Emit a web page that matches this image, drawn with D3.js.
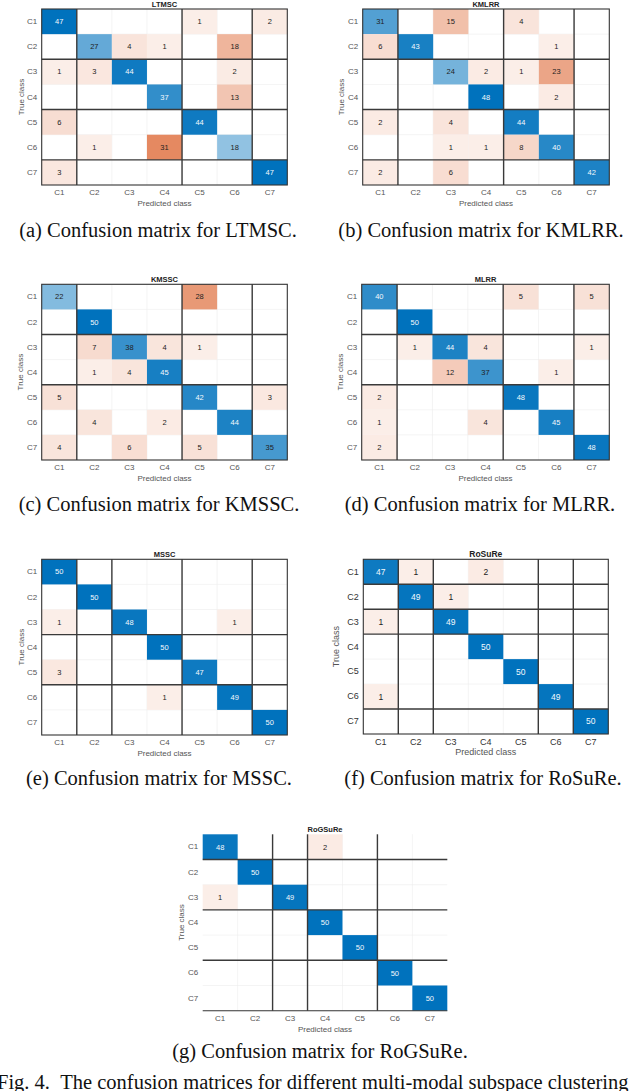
<!DOCTYPE html>
<html>
<head>
<meta charset="utf-8">
<script src="https://cdn.jsdelivr.net/npm/d3@7"></script>
<style>
  html, body { margin: 0; padding: 0; background: #fff; overflow: hidden; }
  svg { display: block; }
</style>
</head>
<body>
<script>
// ---------------- DATA ----------------
const classes = ["C1", "C2", "C3", "C4", "C5", "C6", "C7"];

const ltmsc = [
  [47, 0, 0, 0, 1, 0, 2],
  [0, 27, 4, 1, 0, 18, 0],
  [1, 3, 44, 0, 0, 2, 0],
  [0, 0, 0, 37, 0, 13, 0],
  [6, 0, 0, 0, 44, 0, 0],
  [0, 1, 0, 31, 0, 18, 0],
  [3, 0, 0, 0, 0, 0, 47]
];
const kmlrr = [
  [31, 0, 15, 0, 4, 0, 0],
  [6, 43, 0, 0, 0, 1, 0],
  [0, 0, 24, 2, 1, 23, 0],
  [0, 0, 0, 48, 0, 2, 0],
  [2, 0, 4, 0, 44, 0, 0],
  [0, 0, 1, 1, 8, 40, 0],
  [2, 0, 6, 0, 0, 0, 42]
];
const kmssc = [
  [22, 0, 0, 0, 28, 0, 0],
  [0, 50, 0, 0, 0, 0, 0],
  [0, 7, 38, 4, 1, 0, 0],
  [0, 1, 4, 45, 0, 0, 0],
  [5, 0, 0, 0, 42, 0, 3],
  [0, 4, 0, 2, 0, 44, 0],
  [4, 0, 6, 0, 5, 0, 35]
];
const mlrr = [
  [40, 0, 0, 0, 5, 0, 5],
  [0, 50, 0, 0, 0, 0, 0],
  [0, 1, 44, 4, 0, 0, 1],
  [0, 0, 12, 37, 0, 1, 0],
  [2, 0, 0, 0, 48, 0, 0],
  [1, 0, 0, 4, 0, 45, 0],
  [2, 0, 0, 0, 0, 0, 48]
];
const mssc = [
  [50, 0, 0, 0, 0, 0, 0],
  [0, 50, 0, 0, 0, 0, 0],
  [1, 0, 48, 0, 0, 1, 0],
  [0, 0, 0, 50, 0, 0, 0],
  [3, 0, 0, 0, 47, 0, 0],
  [0, 0, 0, 1, 0, 49, 0],
  [0, 0, 0, 0, 0, 0, 50]
];
const rosure = [
  [47, 1, 0, 2, 0, 0, 0],
  [0, 49, 1, 0, 0, 0, 0],
  [1, 0, 49, 0, 0, 0, 0],
  [0, 0, 0, 50, 0, 0, 0],
  [0, 0, 0, 0, 50, 0, 0],
  [1, 0, 0, 0, 0, 49, 0],
  [0, 0, 0, 0, 0, 0, 50]
];
const rogsure = [
  [48, 0, 0, 2, 0, 0, 0],
  [0, 50, 0, 0, 0, 0, 0],
  [1, 0, 49, 0, 0, 0, 0],
  [0, 0, 0, 50, 0, 0, 0],
  [0, 0, 0, 0, 50, 0, 0],
  [0, 0, 0, 0, 0, 50, 0],
  [0, 0, 0, 0, 0, 0, 50]
];

const titles = ["LTMSC", "KMLRR", "KMSSC", "MLRR", "MSSC", "RoSuRe", "RoGSuRe"];
const captions = [
  "(a) Confusion matrix for LTMSC.",
  "(b) Confusion matrix for KMLRR.",
  "(c) Confusion matrix for KMSSC.",
  "(d) Confusion matrix for MLRR.",
  "(e) Confusion matrix for MSSC.",
  "(f) Confusion matrix for RoSuRe.",
  "(g) Confusion matrix for RoGSuRe."
];
// cluster-block separators: number of classes before each line
const colBreaks = [[1, 4, 6], [1, 4, 6], [1, 4, 6], [1, 4, 6], [1, 2, 4, 6], [1, 2, 5, 6], [2, 3, 5]];
const rowBreaks = [[2, 4, 6], [2, 4, 6], [2, 4], [2, 4], [3, 5], [1, 2, 3, 6], [1, 3, 5]];
const figCaption = "Fig. 4.\u00A0\u00A0The confusion matrices for different multi-modal subspace clustering";
const xLabel = "Predicted class";
const yLabel = "True class";

// ---------------- LAYOUT ----------------
const matrices = [ltmsc, kmlrr, kmssc, mlrr, mssc, rosure, rogsure];
const layout = [
  { x0: 41.7, x1: 287.3, y0: 9, y1: 185, ylab: 21, cap: 158, capY: 230, border: true, big: false },
  { x0: 362.7, x1: 609.3, y0: 9, y1: 185, ylab: 341, cap: 481, capY: 230, border: true, big: false },
  { x0: 41.7, x1: 287.3, y0: 284.3, y1: 460, ylab: 20.5, cap: 159, capY: 504, border: true, big: false },
  { x0: 361.7, x1: 609.3, y0: 284.3, y1: 460, ylab: 340, cap: 480, capY: 504, border: true, big: false },
  { x0: 41.7, x1: 287.3, y0: 559.3, y1: 735, ylab: 21, cap: 159, capY: 778, border: true, big: false },
  { x0: 363.3, x1: 608.3, y0: 559.3, y1: 734, ylab: 335.5, cap: 483, capY: 778, border: true, big: true },
  { x0: 202.7, x1: 447.3, y0: 834.3, y1: 1010.7, ylab: 181, cap: 320, capY: 1051, border: false, big: false }
];

const W = 640, H = 1091;
const svg = d3.select("body").append("svg").attr("width", W).attr("height", H);
const sans = "'Liberation Sans', Arial, Helvetica, sans-serif";
const serif = "'Liberation Serif', 'Times New Roman', Times, serif";

const blue = d3.interpolateRgb("#ffffff", "#0072BD");
const red = d3.interpolateRgb("#ffffff", "#D95319");

matrices.forEach((m, p) => {
  const L = layout[p];
  const g = svg.append("g");
  const x = d3.scaleBand().domain(classes).range([L.x0, L.x1]);
  const y = d3.scaleBand().domain(classes).range([L.y0, L.y1]);
  const vmax = d3.max(m.flat());

  const cells = [];
  m.forEach((row, i) => row.forEach((v, j) => {
    if (v > 0) cells.push({ r: classes[i], c: classes[j], v, diag: i === j });
  }));

  // faint grid
  const gridCol = "#ececec";
  g.append("g").selectAll("line.gv").data(classes.slice(1)).join("line")
    .attr("x1", d => x(d)).attr("x2", d => x(d))
    .attr("y1", L.y0).attr("y2", L.y1)
    .attr("stroke", gridCol).attr("stroke-width", 0.6);
  g.append("g").selectAll("line.gh").data(classes.slice(1)).join("line")
    .attr("y1", d => y(d)).attr("y2", d => y(d))
    .attr("x1", L.x0).attr("x2", L.x1)
    .attr("stroke", gridCol).attr("stroke-width", 0.6);

  const tOf = v => 0.08 + 0.92 * v / vmax;
  g.append("g").selectAll("rect").data(cells).join("rect")
    .attr("x", d => x(d.c)).attr("y", d => y(d.r))
    .attr("width", x.bandwidth()).attr("height", y.bandwidth())
    .attr("fill", d => d.diag ? blue(tOf(d.v)) : red(tOf(d.v)));

  g.append("g").selectAll("text").data(cells).join("text")
    .attr("x", d => x(d.c) + x.bandwidth() / 2)
    .attr("y", d => y(d.r) + y.bandwidth() / 2)
    .attr("dy", "0.35em")
    .attr("text-anchor", "middle")
    .attr("font-family", sans)
    .attr("font-size", L.big ? 8.5 : 7.5)
    .attr("fill", d => (d.v / vmax > 0.76) ? "#f4f8fc" : "#222")
    .text(d => d.v);

  // block separators
  const sepCol = "#3a3a3a";
  g.append("g").selectAll("line").data(colBreaks[p]).join("line")
    .attr("x1", k => x(classes[k])).attr("x2", k => x(classes[k]))
    .attr("y1", L.y0).attr("y2", L.y1)
    .attr("stroke", sepCol).attr("stroke-width", 1.4);
  g.append("g").selectAll("line").data(rowBreaks[p]).join("line")
    .attr("y1", k => y(classes[k])).attr("y2", k => y(classes[k]))
    .attr("x1", L.x0).attr("x2", L.x1)
    .attr("stroke", sepCol).attr("stroke-width", 1.4);

  if (L.border) {
    g.append("rect")
      .attr("x", L.x0).attr("y", L.y0)
      .attr("width", L.x1 - L.x0).attr("height", L.y1 - L.y0)
      .attr("fill", "none").attr("stroke", "#333").attr("stroke-width", 1.1);
  } else {
    g.append("line").attr("x1", L.x0).attr("x2", L.x1)
      .attr("y1", L.y1).attr("y2", L.y1)
      .attr("stroke", "#333").attr("stroke-width", 1.1);
  }

  const tickSize = L.big ? 9 : 8;
  const tickCol = L.big ? "#333" : "#555";
  const ax = g.append("g").attr("transform", `translate(0,${L.y1})`)
    .call(d3.axisBottom(x).tickSize(0).tickPadding(4.5));
  ax.select(".domain").remove();
  ax.selectAll("text").attr("font-family", sans).attr("font-size", tickSize).attr("fill", tickCol);

  const ay = g.append("g").attr("transform", `translate(${L.x0},0)`)
    .call(d3.axisLeft(y).tickSize(0).tickPadding(4.5));
  ay.select(".domain").remove();
  ay.selectAll("text").attr("font-family", sans).attr("font-size", tickSize).attr("fill", tickCol);

  // title
  g.append("text")
    .attr("x", (L.x0 + L.x1) / 2).attr("y", L.y0 - 2)
    .attr("text-anchor", "middle")
    .attr("font-family", sans).attr("font-weight", "bold")
    .attr("font-size", L.big ? 8.5 : 7.5).attr("fill", "#222")
    .text(titles[p]);

  // axis labels
  g.append("text")
    .attr("x", (L.x0 + L.x1) / 2).attr("y", L.y1 + 18).attr("dy", "0.35em")
    .attr("text-anchor", "middle")
    .attr("font-family", sans).attr("font-size", L.big ? 9 : 8).attr("fill", "#555")
    .text(xLabel);
  g.append("text")
    .attr("transform", `translate(${L.ylab},${(L.y0 + L.y1) / 2}) rotate(-90)`)
    .attr("dy", "0.35em")
    .attr("text-anchor", "middle")
    .attr("font-family", sans).attr("font-size", L.big ? 9 : 8).attr("fill", "#555")
    .text(yLabel);

  // caption
  svg.append("text")
    .attr("x", L.cap).attr("y", L.capY).attr("dy", "0.33em")
    .attr("text-anchor", "middle")
    .attr("font-family", serif).attr("font-size", 20.5).attr("fill", "#111")
    .text(captions[p]);
});

svg.append("text")
  .attr("x", -3).attr("y", 1082).attr("dy", "0.33em")
  .attr("font-family", serif).attr("font-size", 20.5).attr("fill", "#111")
  .text(figCaption);
</script>
</body>
</html>
